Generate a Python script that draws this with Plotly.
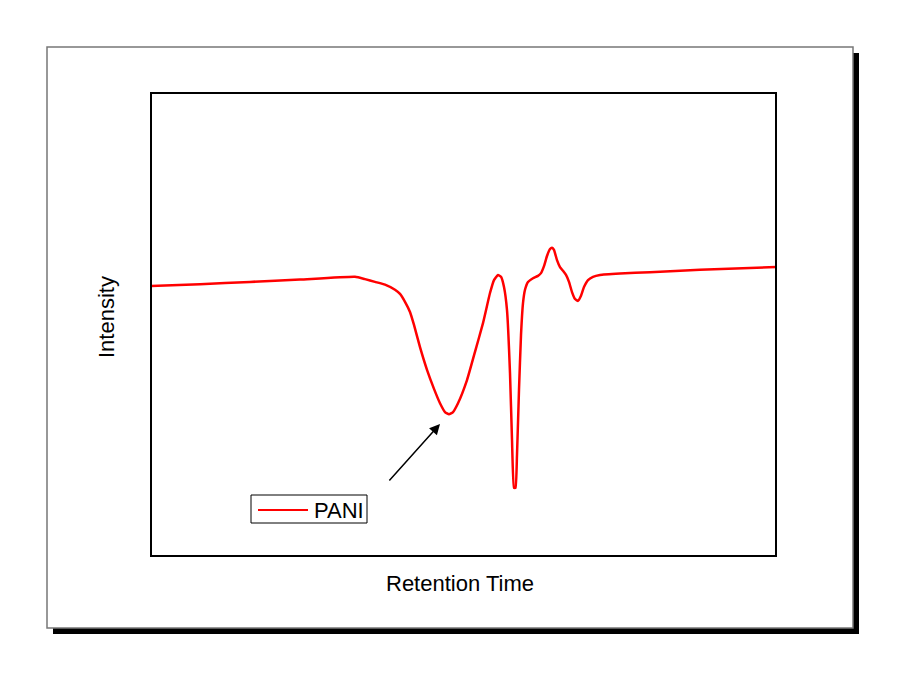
import plotly.graph_objects as go

retention_time = [0, 7.84, 15.84, 23.84, 32.64, 34.24, 35.84, 37.44, 39.04, 39.84, 40.64, 41.44,
                  42.08, 43.04, 44.16, 45.28, 46.24, 47.04, 47.68, 48.32, 49.12, 50.56, 51.84,
                  53.12, 54.24, 54.88, 55.52, 56.0, 56.48, 56.96, 57.44, 57.76, 58.08, 58.32,
                  58.56, 58.88, 59.2, 59.52, 59.84, 60.32, 61.12, 61.92, 62.4, 62.88, 63.36,
                  63.84, 64.16, 64.48, 64.96, 65.44, 65.92, 66.4, 66.88, 67.36, 67.84, 68.32,
                  68.8, 69.28, 69.92, 70.72, 71.84, 75.04, 79.84, 87.84, 100]
intensity = [58.3, 58.7, 59.2, 59.7, 60.3, 59.8, 59.2, 58.6, 57.5, 56.6, 54.9, 52.7,
             49.9, 45.1, 40.2, 36.1, 33.0, 31.1, 30.6, 31.1, 33.0, 38.0, 44.1,
             50.3, 56.8, 59.6, 60.7, 60.3, 58.1, 53.1, 39.5, 25.1, 14.7, 14.7,
             21.8, 35.9, 47.7, 54.6, 57.5, 59.2, 60.0, 60.5, 61.1, 62.6, 64.8,
             66.3, 66.6, 66.1, 63.9, 62.4, 61.6, 60.7, 59.2, 57.0, 55.5, 55.1,
             56.2, 58.1, 59.6, 60.3, 60.7, 61.0, 61.3, 61.8, 62.4]

series_name = "PANI"
line_color = "#ff0000"
arrow_tip = (46.24, 28.5)
arrow_tail = (37.92, 15.98)

fig = go.Figure()
fig.add_trace(go.Scatter(x=retention_time, y=intensity, mode="lines", name=series_name,
                         showlegend=False,
                         line=dict(color=line_color, width=2.5, shape="spline", smoothing=0.4)))

W, H = 900, 675
OFF = 8  # page body margin
L, R, T, B = 151, 776, 93, 556
def px(x):
    return (x - L) / (R - L)
def py(y):
    return (B - y) / (B - T)

# page frame with drop shadow
fig.add_shape(type="rect", xref="paper", yref="paper", x0=px(53), x1=px(859), y0=py(634), y1=py(53),
              fillcolor="black", line=dict(width=0), layer="below")
fig.add_shape(type="rect", xref="paper", yref="paper", x0=px(47), x1=px(853), y0=py(628), y1=py(47),
              fillcolor="white", line=dict(color="#777777", width=1.5), layer="below")
# plot border
fig.add_shape(type="rect", xref="paper", yref="paper", x0=0, x1=1, y0=0, y1=1,
              fillcolor="rgba(0,0,0,0)", line=dict(color="black", width=2), layer="above")

# legend box
fig.add_shape(type="rect", xref="paper", yref="paper", x0=px(251), x1=px(367), y0=py(523), y1=py(495),
              fillcolor="white", line=dict(color="black", width=1), layer="above")
fig.add_shape(type="line", xref="paper", yref="paper", x0=px(258), x1=px(308), y0=py(510), y1=py(510),
              line=dict(color=line_color, width=2), layer="above")
fig.add_annotation(text=series_name, xref="paper", yref="paper", x=px(312), y=py(510),
                   xanchor="left", yanchor="middle", showarrow=False,
                   font=dict(size=22, color="black"))

fig.add_annotation(x=arrow_tip[0], y=arrow_tip[1], ax=arrow_tail[0], ay=arrow_tail[1],
                   xref="x", yref="y", axref="x", ayref="y", text="", showarrow=True,
                   arrowhead=2, arrowsize=1.4, arrowwidth=1.5, arrowcolor="black")
fig.add_annotation(text="Retention Time", xref="paper", yref="paper", x=px(460), y=py(583),
                   xanchor="center", yanchor="middle",
                   showarrow=False, font=dict(size=22, color="black"))
fig.add_annotation(text="Intensity", xref="paper", yref="paper", x=px(106), y=py(317),
                   xanchor="center", yanchor="middle",
                   showarrow=False, textangle=-90, font=dict(size=22, color="black"))

fig.update_layout(
    width=W, height=H,
    margin=dict(l=L - OFF, r=W - R + OFF, t=T - OFF, b=H - B + OFF),
    paper_bgcolor="white", plot_bgcolor="rgba(0,0,0,0)",
    font=dict(family="Liberation Sans, Arial, sans-serif", color="black"),
    showlegend=False,
    xaxis=dict(range=[0, 100], showticklabels=False, ticks="", showgrid=False, zeroline=False),
    yaxis=dict(range=[0, 100], showticklabels=False, ticks="", showgrid=False, zeroline=False),
)

fig.write_html("out.html")
